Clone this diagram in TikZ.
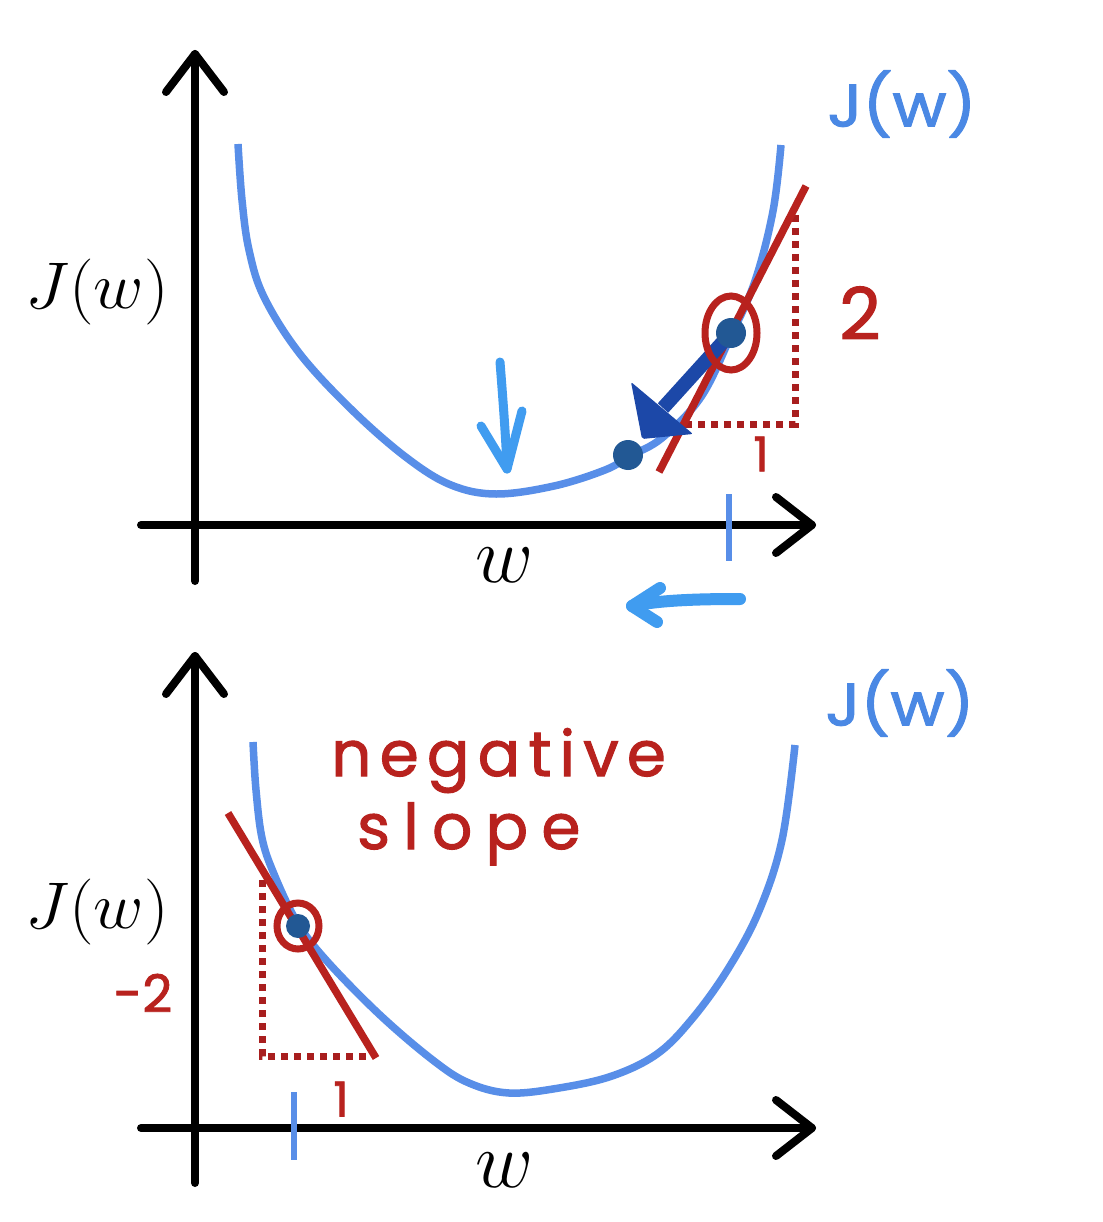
\RequirePackage{fix-cm}
\documentclass[tikz,border=0pt]{standalone}
\usepackage{fontspec}
\newfontfamily\handA[LetterSpace=13,FakeBold=1.6]{Poppins}
\newfontfamily\handB[LetterSpace=21,FakeBold=1.6]{Poppins}
\newfontfamily\hand[FakeBold=1.6]{Poppins}
\usetikzlibrary{arrows.meta}
\definecolor{curveblue}{RGB}{88,142,232}
\definecolor{arrowblue}{RGB}{64,156,240}
\definecolor{labelblue}{RGB}{74,136,228}
\definecolor{darkarrow}{RGB}{28,72,168}
\definecolor{dotblue}{RGB}{34,88,148}
\definecolor{redc}{RGB}{184,34,30}
\definecolor{reddot}{RGB}{168,30,30}
\tikzset{
  axisline/.style={line width=8pt, black, line cap=round, line join=round},
  curve/.style={line width=7.5pt, curveblue, line cap=butt},
  tangent/.style={line width=7.5pt, redc},
  dotted red/.style={line width=7pt, reddot, dash pattern=on 7pt off 6pt},
  ring/.style={line width=7pt, redc},
  pointdot/.style={fill=dotblue},
  tick/.style={line width=6pt, curveblue},
  lightarrow/.style={arrowblue, line cap=round, line join=round},
  mathlab/.style={inner sep=0pt, xscale=1.05, font=\fontsize{66}{72}\selectfont},
  wlab/.style={inner sep=0pt, font=\fontsize{80}{90}\selectfont},
  bluelab/.style={inner sep=0pt, labelblue, xscale=1.1, font=\hand\fontsize{60}{70}\selectfont},
  redlab/.style={inner sep=0pt, redc},
}
\begin{document}
\begin{tikzpicture}[x=1pt,y=-1pt]
\useasboundingbox (0,0) rectangle (1102,1222);
\fill[white] (0,0) rectangle (1102,1222);

% ================= TOP PANEL =================
\coordinate (yb1) at (195,581);
\coordinate (yt1) at (195,54);
\coordinate (xl1) at (141,525);
\coordinate (xr1) at (812,525);
\draw[axisline] (yb1) -- (yt1);
\draw[axisline] (166,92) -- (yt1) -- (224,92);
\draw[axisline] (xl1) -- (xr1);
\draw[axisline] (776,497) -- (xr1) -- (776,553);

% curve
\draw[curve] plot[smooth, tension=0.6] coordinates {
 (238,144) (242,200) (249,250) (264,297) (300,354) (353,411) (407,458)
 (451,485) (496,494) (554,486) (605,470) (630,456) (662,438) (701,397)
 (730,338) (755,281) (773,211) (781,145)};

% tangent and slope triangle
\coordinate (ta1) at (659,472);
\coordinate (tb1) at (806,186);
\draw[dotted red] (795,215) -- (795,424) -- (686,424);
\draw[tangent] (ta1) -- (tb1);

% tick on w axis
\draw[tick] (729,494) -- (729,561);

% points and gradient step arrow
\coordinate (p1) at (731,333);
\coordinate (p2) at (628,455);
\coordinate (ahead) at (663,408);
\draw[darkarrow, line width=14pt] (p1) -- (ahead);
\fill[darkarrow, rounded corners=2pt] (631,382) -- (642,439) -- (693,434) -- cycle;
\fill[pointdot] (p1) circle[radius=15pt];
\fill[pointdot] (p2) circle[radius=15pt];
\draw[ring] (p1) ellipse[x radius=26pt, y radius=37pt];

% light blue down arrow to minimum
\coordinate (da1) at (500,362);
\coordinate (da2) at (507,469);
\draw[lightarrow, line width=9pt] (da1) .. controls (503,400) and (506,440) .. (da2);
\draw[lightarrow, line width=9pt] (481,426) -- (da2) -- (522,411);

% labels
\node[mathlab] (jy1) at (97,292) {$J(w)$};
\node[wlab] (w1) at (505,565) {$w$};
\node[bluelab] (jb1) at (902,104) {J(w)};
\node[redlab, font=\hand\fontsize{72}{80}\selectfont] (two) at (860,313) {2};
\node[redlab, font=\hand\fontsize{48}{56}\selectfont] (one1) at (761,454) {1};

% left arrow between panels
\coordinate (la1) at (740,599);
\coordinate (la2) at (632,606);
\draw[lightarrow, line width=12pt] (la1) .. controls (700,599) and (660,600) .. (la2);
\draw[lightarrow, line width=12pt] (660,588) -- (la2) -- (657,622);

% ================= BOTTOM PANEL =================
\coordinate (yb2) at (195,1183);
\coordinate (yt2) at (195,656);
\coordinate (xl2) at (141,1128);
\coordinate (xr2) at (812,1128);
\draw[axisline] (yb2) -- (yt2);
\draw[axisline] (166,694) -- (yt2) -- (224,694);
\draw[axisline] (xl2) -- (xr2);
\draw[axisline] (776,1100) -- (xr2) -- (776,1156);

\draw[curve] plot[smooth, tension=0.6] coordinates {
 (253,742) (256,790) (262,838) (274,874) (297,922) (326,960) (380,1015)
 (434,1061) (469,1083) (509,1093) (559,1088) (612,1076) (657,1054)
 (692,1019) (728,969) (759,911) (782,840) (795,745)};

\coordinate (ta2) at (228,813);
\coordinate (tb2) at (376,1058);
\draw[dotted red] (262,880) -- (262,1056) -- (372,1056);
\draw[tangent] (ta2) -- (tb2);

\draw[tick] (294,1092) -- (294,1160);

\coordinate (p3) at (298,926);
\fill[pointdot] (p3) circle[radius=12pt];
\draw[ring] (p3) ellipse[x radius=21pt, y radius=23pt];

\node[mathlab] (jy2) at (97,912) {$J(w)$};
\node[wlab] (w2) at (505,1170) {$w$};
\node[bluelab] (jb2) at (900,703) {J(w)};
\node[redlab, font=\hand\fontsize{52}{60}\selectfont] (mtwo) at (143,993) {-2};
\node[redlab, font=\hand\fontsize{48}{56}\selectfont] (one2) at (341,1099) {1};

\node[redlab, anchor=base west, font=\handA\fontsize{63}{70}\selectfont] (neg) at (331,776) {negative};
\node[redlab, anchor=base west, font=\handB\fontsize{63}{70}\selectfont] (slo) at (357,849) {slope};
\end{tikzpicture}
\end{document}
